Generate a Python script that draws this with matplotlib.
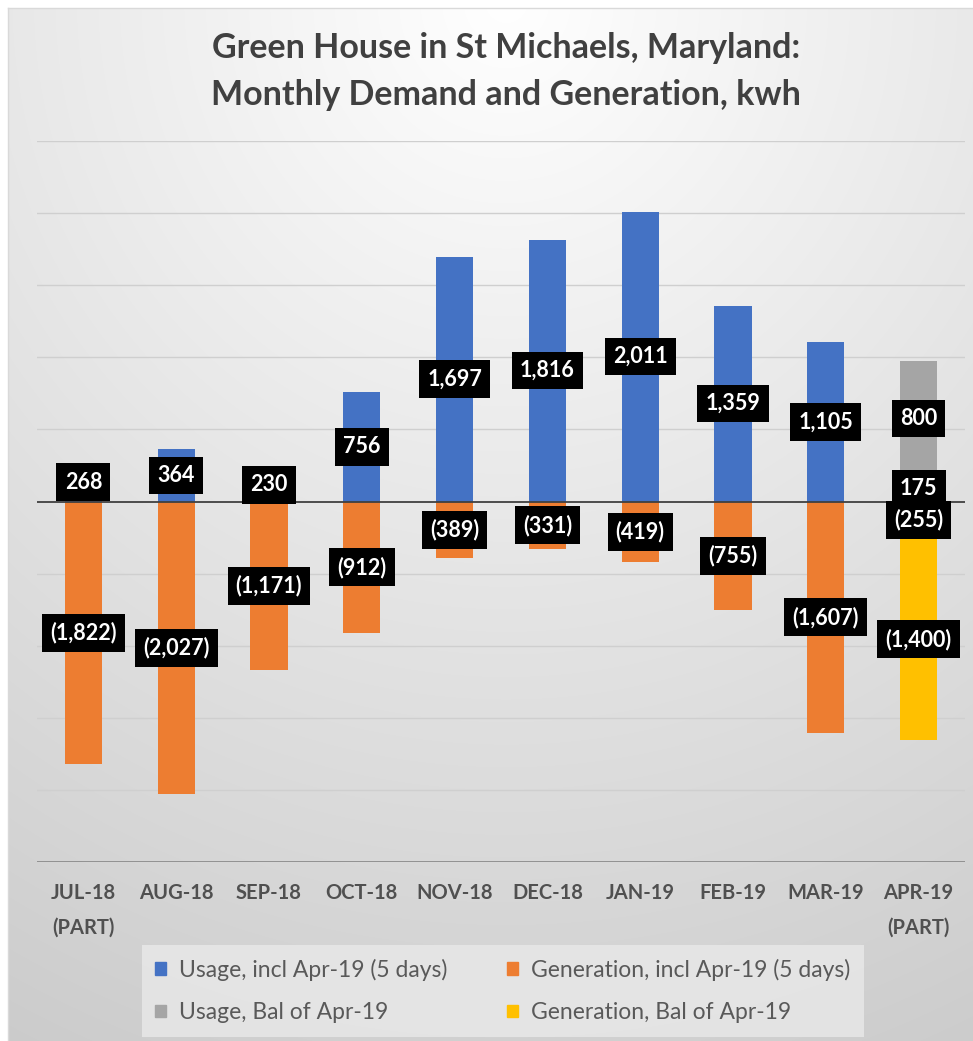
import numpy as np
import matplotlib
matplotlib.use("Agg")
import matplotlib.pyplot as plt
from matplotlib.patches import Patch

plt.rcParams['font.family'] = ['Lato', 'DejaVu Sans']

months = ["JUL-18\n(PART)", "AUG-18", "SEP-18", "OCT-18", "NOV-18", "DEC-18",
          "JAN-19", "FEB-19", "MAR-19", "APR-19\n(PART)"]
usage = [268, 364, 230, 756, 1697, 1816, 2011, 1359, 1105, 175]
usage_bal = [0, 0, 0, 0, 0, 0, 0, 0, 0, 800]
generation = [-1822, -2027, -1171, -912, -389, -331, -419, -755, -1607, -255]
generation_bal = [0, 0, 0, 0, 0, 0, 0, 0, 0, -1400]

c_blue = "#4472C4"
c_orange = "#ED7D31"
c_gray = "#A5A5A5"
c_yellow = "#FFC000"

W, H = 973, 1041
fig = plt.figure(figsize=(W / 100, H / 100), dpi=100)

# background radial gradient
bg = fig.add_axes([0, 0, 1, 1], zorder=-10)
yy, xx = np.mgrid[0:H, 0:W]
cx, cy = W * 0.52, 0.0
r = np.sqrt(((xx - cx) / 1.0) ** 2 + ((yy - cy) / 1.05) ** 2)
r = np.clip(r / 1150.0, 0, 1)
val = 1.0 - 0.21 * r
img = np.dstack([val, val, val])
img[:8, :, :] = 1.0
img[:, :8, :] = 1.0
bg.imshow(img, aspect='auto', extent=[0, W, H, 0], interpolation='bilinear')
bg.plot([8, W], [8, 8], color="#d9d9d9", lw=1)
bg.plot([8, 8], [8, H], color="#d9d9d9", lw=1)
bg.set_xlim(0, W)
bg.set_ylim(H, 0)
bg.axis('off')

ax = fig.add_axes([37 / W, 1 - 862 / H, (965 - 37) / W, (862 - 141) / H])
ax.patch.set_alpha(0)
x = np.arange(len(months))
bw = 0.4
ax.bar(x, usage, bw, color=c_blue, zorder=3)
ax.bar(x, usage_bal, bw, bottom=usage, color=c_gray, zorder=3)
ax.bar(x, generation, bw, color=c_orange, zorder=3)
ax.bar(x, generation_bal, bw, bottom=generation, color=c_yellow, zorder=3)

ax.set_xlim(-0.5, len(months) - 0.5)
ax.set_ylim(-2500, 2500)
for g in np.arange(-2000, 2501, 500):
    if g != 0:
        ax.axhline(g, color="#cfcfcf", lw=1, zorder=1)
ax.axhline(0, color="#404040", lw=1.3, zorder=4)
ax.axhline(-2500, color="#8c8c8c", lw=1.3, zorder=4)
ax.set_yticks([])
for s in ax.spines.values():
    s.set_visible(False)
ax.set_xticks(x)
ax.set_xticklabels(months, fontsize=14.5, fontweight='bold', color="#505050",
                   linespacing=1.9)
ax.tick_params(axis='x', length=0, pad=15)


def fmt(v):
    s = f"{abs(v):,}"
    return f"({s})" if v < 0 else s


def label(xi, center, v):
    ax.text(xi, center, fmt(v), ha='center', va='center', fontsize=15.5,
            fontweight='bold', color='white', zorder=6,
            bbox=dict(boxstyle='square,pad=0.38', fc='black', ec='none'))


for i in range(len(months)):
    label(i, usage[i] / 2, usage[i])
    if usage_bal[i]:
        label(i, usage[i] + usage_bal[i] / 2, usage_bal[i])
    label(i, generation[i] / 2, generation[i])
    if generation_bal[i]:
        label(i, generation[i] + generation_bal[i] / 2, generation_bal[i])

fig.text(0.52, 1 - 48 / H, "Green House in St Michaels, Maryland:", ha='center', va='center',
         fontsize=24.5, fontweight='bold', color="#404040")
fig.text(0.52, 1 - 95 / H, "Monthly Demand and Generation, kwh", ha='center', va='center',
         fontsize=24.5, fontweight='bold', color="#404040")

# column-major order so rows read: blue, orange / gray, yellow
handles = [Patch(color=c_blue), Patch(color=c_gray), Patch(color=c_orange), Patch(color=c_yellow)]
labels = ["Usage, incl Apr-19 (5 days)", "Usage, Bal of Apr-19",
          "Generation, incl Apr-19 (5 days)", "Generation, Bal of Apr-19"]
leg = fig.legend(handles, labels, ncol=2, loc='center', bbox_to_anchor=(503 / W, 1 - 991 / H),
                 frameon=True, fontsize=16.5, handlelength=0.45, handleheight=0.45,
                 handletextpad=0.6, columnspacing=2.6, labelspacing=0.95,
                 borderpad=0.6, fancybox=False)
leg.get_frame().set_facecolor("#e9e9e9")
leg.get_frame().set_edgecolor("none")
for t in leg.get_texts():
    t.set_color("#595959")

fig.savefig("out.png", dpi=100)
